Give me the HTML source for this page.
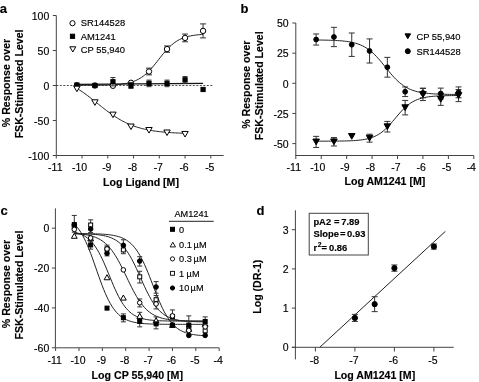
<!DOCTYPE html>
<html><head><meta charset="utf-8"><style>
html,body{margin:0;padding:0;background:#fff;}
svg{display:block;will-change:transform;}
text{font-family:"Liberation Sans",sans-serif;fill:#000;stroke:#000;stroke-width:0.15px;}
</style></head><body>
<svg width="479" height="382" viewBox="0 0 479 382">
<rect width="479" height="382" fill="#fff"/>
<text x="-0.30" y="12.60" font-size="13" font-weight="bold" text-anchor="start">a</text>
<line x1="56.30" y1="15.60" x2="56.30" y2="155.50" stroke="#444" stroke-width="1"/>
<line x1="56.30" y1="155.50" x2="223.60" y2="155.50" stroke="#444" stroke-width="1"/>
<line x1="52.80" y1="15.50" x2="56.30" y2="15.50" stroke="#444" stroke-width="1"/>
<text x="49.30" y="20.00" font-size="10.5" font-weight="normal" text-anchor="end">100</text>
<line x1="52.80" y1="50.50" x2="56.30" y2="50.50" stroke="#444" stroke-width="1"/>
<text x="49.30" y="55.00" font-size="10.5" font-weight="normal" text-anchor="end">50</text>
<line x1="52.80" y1="85.50" x2="56.30" y2="85.50" stroke="#444" stroke-width="1"/>
<text x="49.30" y="90.00" font-size="10.5" font-weight="normal" text-anchor="end">0</text>
<line x1="52.80" y1="120.50" x2="56.30" y2="120.50" stroke="#444" stroke-width="1"/>
<text x="49.30" y="125.00" font-size="10.5" font-weight="normal" text-anchor="end">-50</text>
<line x1="52.80" y1="155.50" x2="56.30" y2="155.50" stroke="#444" stroke-width="1"/>
<text x="49.30" y="160.00" font-size="10.5" font-weight="normal" text-anchor="end">-100</text>
<line x1="56.30" y1="155.50" x2="56.30" y2="158.50" stroke="#444" stroke-width="1"/>
<text x="55.30" y="170.60" font-size="10.5" font-weight="normal" text-anchor="middle">-11</text>
<line x1="82.05" y1="155.50" x2="82.05" y2="158.50" stroke="#444" stroke-width="1"/>
<text x="79.55" y="170.60" font-size="10.5" font-weight="normal" text-anchor="middle">-10</text>
<line x1="107.80" y1="155.50" x2="107.80" y2="158.50" stroke="#444" stroke-width="1"/>
<text x="106.80" y="170.60" font-size="10.5" font-weight="normal" text-anchor="middle">-9</text>
<line x1="133.55" y1="155.50" x2="133.55" y2="158.50" stroke="#444" stroke-width="1"/>
<text x="132.55" y="170.60" font-size="10.5" font-weight="normal" text-anchor="middle">-8</text>
<line x1="159.30" y1="155.50" x2="159.30" y2="158.50" stroke="#444" stroke-width="1"/>
<text x="158.30" y="170.60" font-size="10.5" font-weight="normal" text-anchor="middle">-7</text>
<line x1="185.05" y1="155.50" x2="185.05" y2="158.50" stroke="#444" stroke-width="1"/>
<text x="184.05" y="170.60" font-size="10.5" font-weight="normal" text-anchor="middle">-6</text>
<line x1="210.80" y1="155.50" x2="210.80" y2="158.50" stroke="#444" stroke-width="1"/>
<text x="209.80" y="170.60" font-size="10.5" font-weight="normal" text-anchor="middle">-5</text>
<text x="141.00" y="185.50" font-size="10.6" font-weight="bold" text-anchor="middle">Log Ligand [M]</text>
<g transform="translate(10.20,83.00) rotate(-90)"><text x="0" y="0" font-size="10.6" font-weight="bold" text-anchor="middle">% Response over</text></g>
<g transform="translate(22.60,83.90) rotate(-90)"><text x="0" y="0" font-size="10.6" font-weight="bold" text-anchor="middle">FSK-Stimulated Level</text></g>
<line x1="56.30" y1="85.50" x2="213.70" y2="85.50" stroke="#222" stroke-width="0.8" stroke-dasharray="2,1.5"/>
<path d="M76.90,85.34 L78.48,85.33 L80.05,85.33 L81.63,85.33 L83.21,85.32 L84.79,85.32 L86.36,85.31 L87.94,85.30 L89.52,85.30 L91.09,85.29 L92.67,85.28 L94.25,85.26 L95.83,85.25 L97.40,85.23 L98.98,85.21 L100.56,85.19 L102.14,85.16 L103.71,85.13 L105.29,85.09 L106.87,85.05 L108.44,85.00 L110.02,84.94 L111.60,84.87 L113.18,84.79 L114.75,84.70 L116.33,84.59 L117.91,84.46 L119.48,84.31 L121.06,84.14 L122.64,83.94 L124.22,83.71 L125.79,83.44 L127.37,83.14 L128.95,82.78 L130.52,82.37 L132.10,81.90 L133.68,81.36 L135.26,80.74 L136.83,80.04 L138.41,79.24 L139.99,78.35 L141.56,77.35 L143.14,76.23 L144.72,75.00 L146.30,73.64 L147.87,72.16 L149.45,70.57 L151.03,68.87 L152.61,67.06 L154.18,65.18 L155.76,63.23 L157.34,61.23 L158.91,59.22 L160.49,57.21 L162.07,55.23 L163.65,53.30 L165.22,51.44 L166.80,49.67 L168.38,48.00 L169.95,46.45 L171.53,45.02 L173.11,43.71 L174.69,42.51 L176.26,41.44 L177.84,40.48 L179.42,39.62 L180.99,38.86 L182.57,38.19 L184.15,37.60 L185.73,37.09 L187.30,36.64 L188.88,36.25 L190.46,35.91 L192.03,35.62 L193.61,35.36 L195.19,35.14 L196.77,34.95 L198.34,34.79 L199.92,34.65 L201.50,34.53 L203.07,34.43" fill="none" stroke="#222" stroke-width="1"/>
<path d="M76.90,88.34 L78.25,89.18 L79.60,90.04 L80.96,90.93 L82.31,91.85 L83.66,92.79 L85.01,93.76 L86.36,94.75 L87.72,95.76 L89.07,96.78 L90.42,97.82 L91.77,98.88 L93.12,99.95 L94.47,101.02 L95.83,102.10 L97.18,103.18 L98.53,104.27 L99.88,105.35 L101.23,106.43 L102.59,107.50 L103.94,108.56 L105.29,109.60 L106.64,110.63 L107.99,111.65 L109.35,112.64 L110.70,113.62 L112.05,114.57 L113.40,115.49 L114.75,116.39 L116.10,117.27 L117.46,118.11 L118.81,118.93 L120.16,119.72 L121.51,120.47 L122.86,121.20 L124.22,121.90 L125.57,122.57 L126.92,123.21 L128.27,123.82 L129.62,124.41 L130.98,124.96 L132.33,125.49 L133.68,125.99 L135.03,126.46 L136.38,126.92 L137.73,127.34 L139.09,127.74 L140.44,128.13 L141.79,128.49 L143.14,128.83 L144.49,129.14 L145.85,129.45 L147.20,129.73 L148.55,130.00 L149.90,130.25 L151.25,130.48 L152.61,130.70 L153.96,130.91 L155.31,131.10 L156.66,131.29 L158.01,131.46 L159.36,131.62 L160.72,131.77 L162.07,131.91 L163.42,132.04 L164.77,132.16 L166.12,132.28 L167.48,132.38 L168.83,132.48 L170.18,132.58 L171.53,132.66 L172.88,132.75 L174.24,132.82 L175.59,132.89 L176.94,132.96 L178.29,133.02 L179.64,133.08 L180.99,133.13 L182.35,133.18 L183.70,133.23 L185.05,133.27" fill="none" stroke="#222" stroke-width="1"/>
<line x1="76.90" y1="84.45" x2="203.07" y2="83.33" stroke="#111" stroke-width="1.2"/>
<circle cx="76.90" cy="85.50" r="2.7" fill="#fff" stroke="#000" stroke-width="1"/>
<circle cx="94.92" cy="85.50" r="2.7" fill="#fff" stroke="#000" stroke-width="1"/>
<circle cx="112.95" cy="85.78" r="2.7" fill="#fff" stroke="#000" stroke-width="1"/>
<circle cx="130.98" cy="82.77" r="2.7" fill="#fff" stroke="#000" stroke-width="1"/>
<line x1="149.00" y1="68.14" x2="149.00" y2="74.86" stroke="#333" stroke-width="1"/>
<line x1="146.00" y1="68.14" x2="152.00" y2="68.14" stroke="#333" stroke-width="1"/>
<line x1="146.00" y1="74.86" x2="152.00" y2="74.86" stroke="#333" stroke-width="1"/>
<circle cx="149.00" cy="71.50" r="2.7" fill="#fff" stroke="#000" stroke-width="1"/>
<line x1="167.02" y1="45.95" x2="167.02" y2="52.25" stroke="#333" stroke-width="1"/>
<line x1="164.02" y1="45.95" x2="170.02" y2="45.95" stroke="#333" stroke-width="1"/>
<line x1="164.02" y1="52.25" x2="170.02" y2="52.25" stroke="#333" stroke-width="1"/>
<circle cx="167.02" cy="49.10" r="2.7" fill="#fff" stroke="#000" stroke-width="1"/>
<line x1="185.05" y1="34.05" x2="185.05" y2="41.75" stroke="#333" stroke-width="1"/>
<line x1="182.05" y1="34.05" x2="188.05" y2="34.05" stroke="#333" stroke-width="1"/>
<line x1="182.05" y1="41.75" x2="188.05" y2="41.75" stroke="#333" stroke-width="1"/>
<circle cx="185.05" cy="37.90" r="2.7" fill="#fff" stroke="#000" stroke-width="1"/>
<line x1="203.07" y1="23.90" x2="203.07" y2="37.90" stroke="#333" stroke-width="1"/>
<line x1="200.07" y1="23.90" x2="206.07" y2="23.90" stroke="#333" stroke-width="1"/>
<line x1="200.07" y1="37.90" x2="206.07" y2="37.90" stroke="#333" stroke-width="1"/>
<circle cx="203.07" cy="30.90" r="2.7" fill="#fff" stroke="#000" stroke-width="1"/>
<rect x="74.80" y="82.91" width="4.2" height="4.2" fill="#000" stroke="#000" stroke-width="1"/>
<rect x="92.83" y="83.40" width="4.2" height="4.2" fill="#000" stroke="#000" stroke-width="1"/>
<line x1="112.95" y1="77.52" x2="112.95" y2="85.92" stroke="#333" stroke-width="1"/>
<line x1="110.45" y1="77.52" x2="115.45" y2="77.52" stroke="#333" stroke-width="1"/>
<line x1="110.45" y1="85.92" x2="115.45" y2="85.92" stroke="#333" stroke-width="1"/>
<rect x="110.85" y="79.62" width="4.2" height="4.2" fill="#000" stroke="#000" stroke-width="1"/>
<line x1="130.98" y1="82.56" x2="130.98" y2="88.44" stroke="#333" stroke-width="1"/>
<line x1="128.48" y1="82.56" x2="133.48" y2="82.56" stroke="#333" stroke-width="1"/>
<line x1="128.48" y1="88.44" x2="133.48" y2="88.44" stroke="#333" stroke-width="1"/>
<rect x="128.88" y="83.40" width="4.2" height="4.2" fill="#000" stroke="#000" stroke-width="1"/>
<line x1="149.00" y1="80.11" x2="149.00" y2="86.69" stroke="#333" stroke-width="1"/>
<line x1="146.50" y1="80.11" x2="151.50" y2="80.11" stroke="#333" stroke-width="1"/>
<line x1="146.50" y1="86.69" x2="151.50" y2="86.69" stroke="#333" stroke-width="1"/>
<rect x="146.90" y="81.30" width="4.2" height="4.2" fill="#000" stroke="#000" stroke-width="1"/>
<line x1="167.02" y1="80.11" x2="167.02" y2="86.69" stroke="#333" stroke-width="1"/>
<line x1="164.52" y1="80.11" x2="169.52" y2="80.11" stroke="#333" stroke-width="1"/>
<line x1="164.52" y1="86.69" x2="169.52" y2="86.69" stroke="#333" stroke-width="1"/>
<rect x="164.92" y="81.30" width="4.2" height="4.2" fill="#000" stroke="#000" stroke-width="1"/>
<line x1="185.05" y1="76.54" x2="185.05" y2="83.12" stroke="#333" stroke-width="1"/>
<line x1="182.55" y1="76.54" x2="187.55" y2="76.54" stroke="#333" stroke-width="1"/>
<line x1="182.55" y1="83.12" x2="187.55" y2="83.12" stroke="#333" stroke-width="1"/>
<rect x="182.95" y="77.73" width="4.2" height="4.2" fill="#000" stroke="#000" stroke-width="1"/>
<rect x="200.97" y="87.39" width="4.2" height="4.2" fill="#000" stroke="#000" stroke-width="1"/>
<path d="M73.70,86.15 L80.10,86.15 L76.90,91.71Z" fill="#fff" stroke="#000" stroke-width="1"/>
<path d="M91.72,99.80 L98.12,99.80 L94.92,105.36Z" fill="#fff" stroke="#000" stroke-width="1"/>
<path d="M109.75,112.12 L116.15,112.12 L112.95,117.68Z" fill="#fff" stroke="#000" stroke-width="1"/>
<path d="M127.78,124.02 L134.18,124.02 L130.98,129.58Z" fill="#fff" stroke="#000" stroke-width="1"/>
<path d="M145.80,127.52 L152.20,127.52 L149.00,133.08Z" fill="#fff" stroke="#000" stroke-width="1"/>
<path d="M163.82,129.97 L170.22,129.97 L167.02,135.53Z" fill="#fff" stroke="#000" stroke-width="1"/>
<path d="M181.85,131.44 L188.25,131.44 L185.05,137.00Z" fill="#fff" stroke="#000" stroke-width="1"/>
<circle cx="72.50" cy="23.20" r="2.6" fill="#fff" stroke="#000" stroke-width="1"/>
<text x="80.80" y="26.30" font-size="9.4" font-weight="normal" text-anchor="start">SR144528</text>
<rect x="70.40" y="34.20" width="4.2" height="4.2" fill="#000" stroke="#000" stroke-width="1"/>
<text x="80.80" y="39.60" font-size="9.4" font-weight="normal" text-anchor="start">AM1241</text>
<path d="M69.80,46.79 L75.80,46.79 L72.80,52.01Z" fill="#fff" stroke="#000" stroke-width="1"/>
<text x="80.80" y="52.80" font-size="9.4" font-weight="normal" text-anchor="start">CP 55,940</text>
<text x="240.50" y="12.60" font-size="13" font-weight="bold" text-anchor="start">b</text>
<line x1="295.80" y1="23.00" x2="295.80" y2="156.00" stroke="#444" stroke-width="1"/>
<line x1="295.80" y1="155.50" x2="473.80" y2="155.50" stroke="#444" stroke-width="1"/>
<line x1="292.30" y1="23.00" x2="295.80" y2="23.00" stroke="#444" stroke-width="1"/>
<text x="288.70" y="27.20" font-size="10.5" font-weight="normal" text-anchor="end">50</text>
<line x1="292.30" y1="53.15" x2="295.80" y2="53.15" stroke="#444" stroke-width="1"/>
<text x="288.70" y="57.35" font-size="10.5" font-weight="normal" text-anchor="end">25</text>
<line x1="292.30" y1="83.30" x2="295.80" y2="83.30" stroke="#444" stroke-width="1"/>
<text x="288.70" y="87.50" font-size="10.5" font-weight="normal" text-anchor="end">0</text>
<line x1="292.30" y1="113.45" x2="295.80" y2="113.45" stroke="#444" stroke-width="1"/>
<text x="288.70" y="117.65" font-size="10.5" font-weight="normal" text-anchor="end">-25</text>
<line x1="292.30" y1="143.60" x2="295.80" y2="143.60" stroke="#444" stroke-width="1"/>
<text x="288.70" y="147.80" font-size="10.5" font-weight="normal" text-anchor="end">-50</text>
<line x1="295.80" y1="155.50" x2="295.80" y2="159.00" stroke="#444" stroke-width="1"/>
<text x="293.80" y="170.80" font-size="10.5" font-weight="normal" text-anchor="middle">-11</text>
<line x1="321.23" y1="155.50" x2="321.23" y2="159.00" stroke="#444" stroke-width="1"/>
<text x="317.73" y="170.80" font-size="10.5" font-weight="normal" text-anchor="middle">-10</text>
<line x1="346.66" y1="155.50" x2="346.66" y2="159.00" stroke="#444" stroke-width="1"/>
<text x="344.96" y="170.80" font-size="10.5" font-weight="normal" text-anchor="middle">-9</text>
<line x1="372.09" y1="155.50" x2="372.09" y2="159.00" stroke="#444" stroke-width="1"/>
<text x="370.39" y="170.80" font-size="10.5" font-weight="normal" text-anchor="middle">-8</text>
<line x1="397.52" y1="155.50" x2="397.52" y2="159.00" stroke="#444" stroke-width="1"/>
<text x="395.82" y="170.80" font-size="10.5" font-weight="normal" text-anchor="middle">-7</text>
<line x1="422.95" y1="155.50" x2="422.95" y2="159.00" stroke="#444" stroke-width="1"/>
<text x="421.25" y="170.80" font-size="10.5" font-weight="normal" text-anchor="middle">-6</text>
<line x1="448.38" y1="155.50" x2="448.38" y2="159.00" stroke="#444" stroke-width="1"/>
<text x="446.68" y="170.80" font-size="10.5" font-weight="normal" text-anchor="middle">-5</text>
<line x1="473.81" y1="155.50" x2="473.81" y2="159.00" stroke="#444" stroke-width="1"/>
<text x="471.31" y="170.80" font-size="10.5" font-weight="normal" text-anchor="middle">-4</text>
<text x="384.90" y="185.20" font-size="10.6" font-weight="bold" text-anchor="middle">Log AM1241 [M]</text>
<g transform="translate(250.40,84.70) rotate(-90)"><text x="0" y="0" font-size="10.6" font-weight="bold" text-anchor="middle">% Response over</text></g>
<g transform="translate(262.70,85.75) rotate(-90)"><text x="0" y="0" font-size="10.6" font-weight="bold" text-anchor="middle">FSK-Stimulated Level</text></g>
<path d="M316.14,40.00 L317.92,40.02 L319.70,40.04 L321.48,40.06 L323.26,40.09 L325.04,40.12 L326.82,40.16 L328.60,40.21 L330.38,40.26 L332.16,40.32 L333.94,40.39 L335.73,40.48 L337.51,40.58 L339.29,40.69 L341.07,40.83 L342.85,40.99 L344.63,41.18 L346.41,41.40 L348.19,41.65 L349.97,41.95 L351.75,42.29 L353.53,42.69 L355.31,43.15 L357.09,43.69 L358.87,44.30 L360.65,45.00 L362.43,45.80 L364.21,46.72 L365.99,47.75 L367.77,48.90 L369.55,50.19 L371.33,51.62 L373.11,53.18 L374.89,54.88 L376.67,56.72 L378.45,58.66 L380.23,60.71 L382.01,62.85 L383.79,65.03 L385.57,67.25 L387.35,69.47 L389.13,71.65 L390.91,73.78 L392.69,75.83 L394.47,77.77 L396.25,79.60 L398.03,81.30 L399.81,82.86 L401.59,84.28 L403.37,85.57 L405.15,86.72 L406.93,87.75 L408.71,88.66 L410.49,89.46 L412.27,90.16 L414.05,90.77 L415.83,91.30 L417.61,91.76 L419.39,92.16 L421.17,92.50 L422.95,92.79 L424.73,93.05 L426.51,93.26 L428.29,93.45 L430.07,93.61 L431.85,93.74 L433.63,93.86 L435.41,93.96 L437.19,94.04 L438.97,94.12 L440.75,94.18 L442.53,94.23 L444.31,94.27 L446.09,94.31 L447.87,94.34 L449.65,94.37 L451.43,94.40 L453.21,94.42 L454.99,94.43 L456.77,94.45 L458.55,94.46" fill="none" stroke="#222" stroke-width="1"/>
<path d="M316.14,141.18 L317.92,141.17 L319.70,141.17 L321.48,141.17 L323.26,141.16 L325.04,141.16 L326.82,141.15 L328.60,141.14 L330.38,141.14 L332.16,141.13 L333.94,141.11 L335.73,141.10 L337.51,141.08 L339.29,141.06 L341.07,141.03 L342.85,141.00 L344.63,140.96 L346.41,140.91 L348.19,140.86 L349.97,140.79 L351.75,140.71 L353.53,140.61 L355.31,140.50 L357.09,140.36 L358.87,140.19 L360.65,139.99 L362.43,139.75 L364.21,139.47 L365.99,139.14 L367.77,138.74 L369.55,138.27 L371.33,137.72 L373.11,137.07 L374.89,136.32 L376.67,135.45 L378.45,134.45 L380.23,133.31 L382.01,132.02 L383.79,130.58 L385.57,128.99 L387.35,127.25 L389.13,125.38 L390.91,123.41 L392.69,121.35 L394.47,119.24 L396.25,117.11 L398.03,115.00 L399.81,112.96 L401.59,110.99 L403.37,109.14 L405.15,107.43 L406.93,105.86 L408.71,104.44 L410.49,103.17 L412.27,102.05 L414.05,101.07 L415.83,100.22 L417.61,99.48 L419.39,98.85 L421.17,98.31 L422.95,97.85 L424.73,97.46 L426.51,97.13 L428.29,96.86 L430.07,96.63 L431.85,96.43 L433.63,96.27 L435.41,96.14 L437.19,96.02 L438.97,95.93 L440.75,95.85 L442.53,95.79 L444.31,95.73 L446.09,95.69 L447.87,95.65 L449.65,95.62 L451.43,95.59 L453.21,95.57 L454.99,95.55 L456.77,95.54 L458.55,95.52" fill="none" stroke="#222" stroke-width="1"/>
<line x1="316.14" y1="33.97" x2="316.14" y2="45.07" stroke="#333" stroke-width="1"/>
<line x1="313.14" y1="33.97" x2="319.14" y2="33.97" stroke="#333" stroke-width="1"/>
<line x1="313.14" y1="45.07" x2="319.14" y2="45.07" stroke="#333" stroke-width="1"/>
<line x1="333.94" y1="27.34" x2="333.94" y2="46.64" stroke="#333" stroke-width="1"/>
<line x1="330.94" y1="27.34" x2="336.94" y2="27.34" stroke="#333" stroke-width="1"/>
<line x1="330.94" y1="46.64" x2="336.94" y2="46.64" stroke="#333" stroke-width="1"/>
<line x1="351.75" y1="33.01" x2="351.75" y2="56.41" stroke="#333" stroke-width="1"/>
<line x1="348.75" y1="33.01" x2="354.75" y2="33.01" stroke="#333" stroke-width="1"/>
<line x1="348.75" y1="56.41" x2="354.75" y2="56.41" stroke="#333" stroke-width="1"/>
<line x1="369.55" y1="38.92" x2="369.55" y2="63.04" stroke="#333" stroke-width="1"/>
<line x1="366.55" y1="38.92" x2="372.55" y2="38.92" stroke="#333" stroke-width="1"/>
<line x1="366.55" y1="63.04" x2="372.55" y2="63.04" stroke="#333" stroke-width="1"/>
<line x1="387.35" y1="57.37" x2="387.35" y2="77.15" stroke="#333" stroke-width="1"/>
<line x1="384.35" y1="57.37" x2="390.35" y2="57.37" stroke="#333" stroke-width="1"/>
<line x1="384.35" y1="77.15" x2="390.35" y2="77.15" stroke="#333" stroke-width="1"/>
<line x1="405.15" y1="86.92" x2="405.15" y2="96.57" stroke="#333" stroke-width="1"/>
<line x1="402.15" y1="86.92" x2="408.15" y2="86.92" stroke="#333" stroke-width="1"/>
<line x1="402.15" y1="96.57" x2="408.15" y2="96.57" stroke="#333" stroke-width="1"/>
<line x1="422.95" y1="88.12" x2="422.95" y2="97.77" stroke="#333" stroke-width="1"/>
<line x1="419.95" y1="88.12" x2="425.95" y2="88.12" stroke="#333" stroke-width="1"/>
<line x1="419.95" y1="97.77" x2="425.95" y2="97.77" stroke="#333" stroke-width="1"/>
<line x1="440.75" y1="88.12" x2="440.75" y2="98.98" stroke="#333" stroke-width="1"/>
<line x1="437.75" y1="88.12" x2="443.75" y2="88.12" stroke="#333" stroke-width="1"/>
<line x1="437.75" y1="98.98" x2="443.75" y2="98.98" stroke="#333" stroke-width="1"/>
<line x1="458.55" y1="86.92" x2="458.55" y2="97.77" stroke="#333" stroke-width="1"/>
<line x1="455.55" y1="86.92" x2="461.55" y2="86.92" stroke="#333" stroke-width="1"/>
<line x1="455.55" y1="97.77" x2="461.55" y2="97.77" stroke="#333" stroke-width="1"/>
<line x1="316.14" y1="136.36" x2="316.14" y2="147.46" stroke="#333" stroke-width="1"/>
<line x1="313.14" y1="136.36" x2="319.14" y2="136.36" stroke="#333" stroke-width="1"/>
<line x1="313.14" y1="147.46" x2="319.14" y2="147.46" stroke="#333" stroke-width="1"/>
<line x1="333.94" y1="137.57" x2="333.94" y2="146.01" stroke="#333" stroke-width="1"/>
<line x1="330.94" y1="137.57" x2="336.94" y2="137.57" stroke="#333" stroke-width="1"/>
<line x1="330.94" y1="146.01" x2="336.94" y2="146.01" stroke="#333" stroke-width="1"/>
<line x1="369.55" y1="134.19" x2="369.55" y2="142.15" stroke="#333" stroke-width="1"/>
<line x1="366.55" y1="134.19" x2="372.55" y2="134.19" stroke="#333" stroke-width="1"/>
<line x1="366.55" y1="142.15" x2="372.55" y2="142.15" stroke="#333" stroke-width="1"/>
<line x1="387.35" y1="121.41" x2="387.35" y2="132.02" stroke="#333" stroke-width="1"/>
<line x1="384.35" y1="121.41" x2="390.35" y2="121.41" stroke="#333" stroke-width="1"/>
<line x1="384.35" y1="132.02" x2="390.35" y2="132.02" stroke="#333" stroke-width="1"/>
<line x1="405.15" y1="100.43" x2="405.15" y2="114.90" stroke="#333" stroke-width="1"/>
<line x1="402.15" y1="100.43" x2="408.15" y2="100.43" stroke="#333" stroke-width="1"/>
<line x1="402.15" y1="114.90" x2="408.15" y2="114.90" stroke="#333" stroke-width="1"/>
<line x1="422.95" y1="88.49" x2="422.95" y2="100.55" stroke="#333" stroke-width="1"/>
<line x1="419.95" y1="88.49" x2="425.95" y2="88.49" stroke="#333" stroke-width="1"/>
<line x1="419.95" y1="100.55" x2="425.95" y2="100.55" stroke="#333" stroke-width="1"/>
<line x1="440.75" y1="93.31" x2="440.75" y2="105.37" stroke="#333" stroke-width="1"/>
<line x1="437.75" y1="93.31" x2="443.75" y2="93.31" stroke="#333" stroke-width="1"/>
<line x1="437.75" y1="105.37" x2="443.75" y2="105.37" stroke="#333" stroke-width="1"/>
<line x1="458.55" y1="89.57" x2="458.55" y2="101.63" stroke="#333" stroke-width="1"/>
<line x1="455.55" y1="89.57" x2="461.55" y2="89.57" stroke="#333" stroke-width="1"/>
<line x1="455.55" y1="101.63" x2="461.55" y2="101.63" stroke="#333" stroke-width="1"/>
<circle cx="316.14" cy="39.52" r="2.4" fill="#000" stroke="#000" stroke-width="1"/>
<circle cx="333.94" cy="36.99" r="2.4" fill="#000" stroke="#000" stroke-width="1"/>
<circle cx="351.75" cy="44.71" r="2.4" fill="#000" stroke="#000" stroke-width="1"/>
<circle cx="369.55" cy="50.98" r="2.4" fill="#000" stroke="#000" stroke-width="1"/>
<circle cx="387.35" cy="67.26" r="2.4" fill="#000" stroke="#000" stroke-width="1"/>
<circle cx="405.15" cy="91.74" r="2.4" fill="#000" stroke="#000" stroke-width="1"/>
<circle cx="422.95" cy="92.95" r="2.4" fill="#000" stroke="#000" stroke-width="1"/>
<circle cx="440.75" cy="93.55" r="2.4" fill="#000" stroke="#000" stroke-width="1"/>
<circle cx="458.55" cy="92.34" r="2.4" fill="#000" stroke="#000" stroke-width="1"/>
<path d="M312.84,139.04 L319.44,139.04 L316.14,144.78Z" fill="#000" stroke="#000" stroke-width="1"/>
<path d="M330.64,138.92 L337.25,138.92 L333.94,144.66Z" fill="#000" stroke="#000" stroke-width="1"/>
<path d="M348.45,133.49 L355.05,133.49 L351.75,139.24Z" fill="#000" stroke="#000" stroke-width="1"/>
<path d="M366.25,135.30 L372.85,135.30 L369.55,141.04Z" fill="#000" stroke="#000" stroke-width="1"/>
<path d="M384.05,123.84 L390.65,123.84 L387.35,129.59Z" fill="#000" stroke="#000" stroke-width="1"/>
<path d="M401.85,104.79 L408.45,104.79 L405.15,110.53Z" fill="#000" stroke="#000" stroke-width="1"/>
<path d="M419.65,91.64 L426.25,91.64 L422.95,97.39Z" fill="#000" stroke="#000" stroke-width="1"/>
<path d="M437.45,96.47 L444.05,96.47 L440.75,102.21Z" fill="#000" stroke="#000" stroke-width="1"/>
<path d="M455.25,92.73 L461.85,92.73 L458.55,98.47Z" fill="#000" stroke="#000" stroke-width="1"/>
<path d="M405.00,33.86 L410.60,33.86 L407.80,38.74Z" fill="#000" stroke="#000" stroke-width="1"/>
<text x="416.40" y="39.80" font-size="9.4" font-weight="normal" text-anchor="start">CP 55,940</text>
<circle cx="407.80" cy="51.20" r="2.5" fill="#000" stroke="#000" stroke-width="1"/>
<text x="416.40" y="54.60" font-size="9.4" font-weight="normal" text-anchor="start">SR144528</text>
<text x="0.50" y="215.00" font-size="13" font-weight="bold" text-anchor="start">c</text>
<line x1="55.40" y1="208.30" x2="55.40" y2="347.80" stroke="#444" stroke-width="1"/>
<line x1="55.40" y1="347.80" x2="219.20" y2="347.80" stroke="#444" stroke-width="1"/>
<line x1="51.90" y1="228.20" x2="55.40" y2="228.20" stroke="#444" stroke-width="1"/>
<text x="49.30" y="232.00" font-size="10.5" font-weight="normal" text-anchor="end">0</text>
<line x1="51.90" y1="268.06" x2="55.40" y2="268.06" stroke="#444" stroke-width="1"/>
<text x="49.30" y="271.86" font-size="10.5" font-weight="normal" text-anchor="end">-20</text>
<line x1="51.90" y1="307.92" x2="55.40" y2="307.92" stroke="#444" stroke-width="1"/>
<text x="49.30" y="311.72" font-size="10.5" font-weight="normal" text-anchor="end">-40</text>
<line x1="51.90" y1="347.78" x2="55.40" y2="347.78" stroke="#444" stroke-width="1"/>
<text x="49.30" y="351.58" font-size="10.5" font-weight="normal" text-anchor="end">-60</text>
<line x1="55.60" y1="347.80" x2="55.60" y2="351.00" stroke="#444" stroke-width="1"/>
<text x="54.60" y="364.30" font-size="10.5" font-weight="normal" text-anchor="middle">-11</text>
<line x1="78.97" y1="347.80" x2="78.97" y2="351.00" stroke="#444" stroke-width="1"/>
<text x="77.97" y="364.30" font-size="10.5" font-weight="normal" text-anchor="middle">-10</text>
<line x1="102.34" y1="347.80" x2="102.34" y2="351.00" stroke="#444" stroke-width="1"/>
<text x="101.34" y="364.30" font-size="10.5" font-weight="normal" text-anchor="middle">-9</text>
<line x1="125.71" y1="347.80" x2="125.71" y2="351.00" stroke="#444" stroke-width="1"/>
<text x="124.71" y="364.30" font-size="10.5" font-weight="normal" text-anchor="middle">-8</text>
<line x1="149.08" y1="347.80" x2="149.08" y2="351.00" stroke="#444" stroke-width="1"/>
<text x="148.08" y="364.30" font-size="10.5" font-weight="normal" text-anchor="middle">-7</text>
<line x1="172.45" y1="347.80" x2="172.45" y2="351.00" stroke="#444" stroke-width="1"/>
<text x="171.45" y="364.30" font-size="10.5" font-weight="normal" text-anchor="middle">-6</text>
<line x1="195.82" y1="347.80" x2="195.82" y2="351.00" stroke="#444" stroke-width="1"/>
<text x="194.82" y="364.30" font-size="10.5" font-weight="normal" text-anchor="middle">-5</text>
<line x1="219.19" y1="347.80" x2="219.19" y2="351.00" stroke="#444" stroke-width="1"/>
<text x="218.19" y="364.30" font-size="10.5" font-weight="normal" text-anchor="middle">-4</text>
<text x="137.30" y="379.20" font-size="10.65" font-weight="bold" text-anchor="middle">Log CP 55,940 [M]</text>
<g transform="translate(10.00,284.00) rotate(-90)"><text x="0" y="0" font-size="10.6" font-weight="bold" text-anchor="middle">% Response over</text></g>
<g transform="translate(22.60,285.00) rotate(-90)"><text x="0" y="0" font-size="10.6" font-weight="bold" text-anchor="middle">FSK-Stimulated Level</text></g>
<path d="M74.30,224.05 L75.93,225.74 L77.57,227.67 L79.20,229.87 L80.84,232.34 L82.48,235.11 L84.11,238.19 L85.75,241.57 L87.38,245.25 L89.02,249.21 L90.66,253.43 L92.29,257.85 L93.93,262.42 L95.56,267.09 L97.20,271.79 L98.83,276.45 L100.47,281.01 L102.11,285.40 L103.74,289.58 L105.38,293.50 L107.01,297.14 L108.65,300.48 L110.29,303.52 L111.92,306.24 L113.56,308.68 L115.19,310.83 L116.83,312.73 L118.47,314.38 L120.10,315.82 L121.74,317.07 L123.37,318.15 L125.01,319.07 L126.64,319.87 L128.28,320.55 L129.92,321.13 L131.55,321.62 L133.19,322.04 L134.82,322.40 L136.46,322.70 L138.10,322.96 L139.73,323.17 L141.37,323.36 L143.00,323.51 L144.64,323.65 L146.28,323.76 L147.91,323.85 L149.55,323.93 L151.18,324.00 L152.82,324.06 L154.46,324.10 L156.09,324.14 L157.73,324.18 L159.36,324.21 L161.00,324.23 L162.63,324.25 L164.27,324.27 L165.91,324.28 L167.54,324.30 L169.18,324.31 L170.81,324.31 L172.45,324.32 L174.09,324.33 L175.72,324.33 L177.36,324.34 L178.99,324.34 L180.63,324.35 L182.27,324.35 L183.90,324.35 L185.54,324.35 L187.17,324.35 L188.81,324.35 L190.44,324.36 L192.08,324.36 L193.72,324.36 L195.35,324.36 L196.99,324.36 L198.62,324.36 L200.26,324.36 L201.90,324.36 L203.53,324.36 L205.17,324.36" fill="none" stroke="#222" stroke-width="1"/>
<path d="M74.30,232.15 L75.93,232.54 L77.57,232.99 L79.20,233.53 L80.84,234.17 L82.48,234.91 L84.11,235.78 L85.75,236.79 L87.38,237.97 L89.02,239.33 L90.66,240.89 L92.29,242.68 L93.93,244.70 L95.56,246.99 L97.20,249.54 L98.83,252.36 L100.47,255.44 L102.11,258.77 L103.74,262.32 L105.38,266.06 L107.01,269.94 L108.65,273.90 L110.29,277.89 L111.92,281.85 L113.56,285.71 L115.19,289.43 L116.83,292.95 L118.47,296.24 L120.10,299.29 L121.74,302.07 L123.37,304.58 L125.01,306.83 L126.64,308.82 L128.28,310.57 L129.92,312.11 L131.55,313.44 L133.19,314.59 L134.82,315.58 L136.46,316.43 L138.10,317.16 L139.73,317.78 L141.37,318.30 L143.00,318.75 L144.64,319.13 L146.28,319.45 L147.91,319.72 L149.55,319.94 L151.18,320.14 L152.82,320.30 L154.46,320.44 L156.09,320.55 L157.73,320.65 L159.36,320.73 L161.00,320.80 L162.63,320.85 L164.27,320.90 L165.91,320.94 L167.54,320.98 L169.18,321.00 L170.81,321.03 L172.45,321.05 L174.09,321.07 L175.72,321.08 L177.36,321.09 L178.99,321.10 L180.63,321.11 L182.27,321.12 L183.90,321.12 L185.54,321.13 L187.17,321.13 L188.81,321.14 L190.44,321.14 L192.08,321.14 L193.72,321.14 L195.35,321.14 L196.99,321.15 L198.62,321.15 L200.26,321.15 L201.90,321.15 L203.53,321.15 L205.17,321.15" fill="none" stroke="#222" stroke-width="1"/>
<path d="M74.30,233.58 L75.93,233.68 L77.57,233.80 L79.20,233.94 L80.84,234.10 L82.48,234.28 L84.11,234.50 L85.75,234.75 L87.38,235.05 L89.02,235.39 L90.66,235.78 L92.29,236.24 L93.93,236.77 L95.56,237.37 L97.20,238.07 L98.83,238.87 L100.47,239.78 L102.11,240.83 L103.74,242.01 L105.38,243.35 L107.01,244.86 L108.65,246.55 L110.29,248.43 L111.92,250.51 L113.56,252.80 L115.19,255.29 L116.83,257.97 L118.47,260.84 L120.10,263.88 L121.74,267.07 L123.37,270.36 L125.01,273.74 L126.64,277.16 L128.28,280.57 L129.92,283.94 L131.55,287.24 L133.19,290.41 L134.82,293.44 L136.46,296.30 L138.10,298.98 L139.73,301.46 L141.37,303.73 L143.00,305.80 L144.64,307.67 L146.28,309.35 L147.91,310.85 L149.55,312.18 L151.18,313.35 L152.82,314.39 L154.46,315.30 L156.09,316.09 L157.73,316.78 L159.36,317.38 L161.00,317.91 L162.63,318.36 L164.27,318.75 L165.91,319.09 L167.54,319.38 L169.18,319.63 L170.81,319.84 L172.45,320.03 L174.09,320.19 L175.72,320.33 L177.36,320.45 L178.99,320.55 L180.63,320.63 L182.27,320.71 L183.90,320.77 L185.54,320.83 L187.17,320.87 L188.81,320.91 L190.44,320.95 L192.08,320.98 L193.72,321.00 L195.35,321.02 L196.99,321.04 L198.62,321.06 L200.26,321.07 L201.90,321.08 L203.53,321.09 L205.17,321.10" fill="none" stroke="#222" stroke-width="1"/>
<path d="M74.30,233.72 L75.93,233.74 L77.57,233.76 L79.20,233.79 L80.84,233.82 L82.48,233.86 L84.11,233.90 L85.75,233.95 L87.38,234.01 L89.02,234.08 L90.66,234.16 L92.29,234.26 L93.93,234.37 L95.56,234.51 L97.20,234.67 L98.83,234.86 L100.47,235.08 L102.11,235.33 L103.74,235.64 L105.38,235.99 L107.01,236.41 L108.65,236.90 L110.29,237.47 L111.92,238.13 L113.56,238.90 L115.19,239.79 L116.83,240.81 L118.47,242.00 L120.10,243.35 L121.74,244.89 L123.37,246.63 L125.01,248.59 L126.64,250.77 L128.28,253.20 L129.92,255.85 L131.55,258.74 L133.19,261.84 L134.82,265.13 L136.46,268.59 L138.10,272.16 L139.73,275.82 L141.37,279.50 L143.00,283.16 L144.64,286.74 L146.28,290.21 L147.91,293.52 L149.55,296.63 L151.18,299.54 L152.82,302.22 L154.46,304.66 L156.09,306.87 L157.73,308.84 L159.36,310.60 L161.00,312.16 L162.63,313.53 L164.27,314.72 L165.91,315.76 L167.54,316.66 L169.18,317.44 L170.81,318.11 L172.45,318.69 L174.09,319.18 L175.72,319.60 L177.36,319.97 L178.99,320.27 L180.63,320.54 L182.27,320.76 L183.90,320.95 L185.54,321.11 L187.17,321.25 L188.81,321.36 L190.44,321.46 L192.08,321.55 L193.72,321.62 L195.35,321.68 L196.99,321.73 L198.62,321.77 L200.26,321.81 L201.90,321.84 L203.53,321.87 L205.17,321.89" fill="none" stroke="#222" stroke-width="1"/>
<path d="M74.30,233.58 L75.93,233.58 L77.57,233.59 L79.20,233.60 L80.84,233.61 L82.48,233.62 L84.11,233.64 L85.75,233.65 L87.38,233.68 L89.02,233.70 L90.66,233.73 L92.29,233.76 L93.93,233.80 L95.56,233.85 L97.20,233.90 L98.83,233.97 L100.47,234.05 L102.11,234.14 L103.74,234.24 L105.38,234.37 L107.01,234.52 L108.65,234.69 L110.29,234.90 L111.92,235.14 L113.56,235.42 L115.19,235.75 L116.83,236.14 L118.47,236.60 L120.10,237.13 L121.74,237.75 L123.37,238.48 L125.01,239.32 L126.64,240.29 L128.28,241.42 L129.92,242.71 L131.55,244.20 L133.19,245.89 L134.82,247.81 L136.46,249.98 L138.10,252.40 L139.73,255.09 L141.37,258.05 L143.00,261.28 L144.64,264.77 L146.28,268.49 L147.91,272.41 L149.55,276.49 L151.18,280.69 L152.82,284.94 L154.46,289.19 L156.09,293.39 L157.73,297.47 L159.36,301.38 L161.00,305.10 L162.63,308.57 L164.27,311.80 L165.91,314.75 L167.54,317.44 L169.18,319.85 L170.81,322.01 L172.45,323.92 L174.09,325.61 L175.72,327.09 L177.36,328.38 L178.99,329.50 L180.63,330.47 L182.27,331.31 L183.90,332.03 L185.54,332.65 L187.17,333.18 L188.81,333.63 L190.44,334.02 L192.08,334.35 L193.72,334.63 L195.35,334.87 L196.99,335.08 L198.62,335.25 L200.26,335.40 L201.90,335.52 L203.53,335.63 L205.17,335.72" fill="none" stroke="#222" stroke-width="1"/>
<line x1="74.30" y1="215.44" x2="74.30" y2="232.19" stroke="#333" stroke-width="1"/>
<line x1="71.80" y1="215.44" x2="76.80" y2="215.44" stroke="#333" stroke-width="1"/>
<line x1="71.80" y1="232.19" x2="76.80" y2="232.19" stroke="#333" stroke-width="1"/>
<line x1="90.66" y1="219.83" x2="90.66" y2="232.58" stroke="#333" stroke-width="1"/>
<line x1="88.16" y1="219.83" x2="93.16" y2="219.83" stroke="#333" stroke-width="1"/>
<line x1="88.16" y1="232.58" x2="93.16" y2="232.58" stroke="#333" stroke-width="1"/>
<line x1="107.01" y1="245.14" x2="107.01" y2="255.90" stroke="#333" stroke-width="1"/>
<line x1="104.51" y1="245.14" x2="109.51" y2="245.14" stroke="#333" stroke-width="1"/>
<line x1="104.51" y1="255.90" x2="109.51" y2="255.90" stroke="#333" stroke-width="1"/>
<line x1="123.37" y1="239.76" x2="123.37" y2="253.71" stroke="#333" stroke-width="1"/>
<line x1="120.87" y1="239.76" x2="125.87" y2="239.76" stroke="#333" stroke-width="1"/>
<line x1="120.87" y1="253.71" x2="125.87" y2="253.71" stroke="#333" stroke-width="1"/>
<line x1="139.73" y1="256.70" x2="139.73" y2="266.07" stroke="#333" stroke-width="1"/>
<line x1="137.23" y1="256.70" x2="142.23" y2="256.70" stroke="#333" stroke-width="1"/>
<line x1="137.23" y1="266.07" x2="142.23" y2="266.07" stroke="#333" stroke-width="1"/>
<line x1="139.73" y1="271.25" x2="139.73" y2="283.01" stroke="#333" stroke-width="1"/>
<line x1="137.23" y1="271.25" x2="142.23" y2="271.25" stroke="#333" stroke-width="1"/>
<line x1="137.23" y1="283.01" x2="142.23" y2="283.01" stroke="#333" stroke-width="1"/>
<line x1="139.73" y1="298.95" x2="139.73" y2="306.92" stroke="#333" stroke-width="1"/>
<line x1="137.23" y1="298.95" x2="142.23" y2="298.95" stroke="#333" stroke-width="1"/>
<line x1="137.23" y1="306.92" x2="142.23" y2="306.92" stroke="#333" stroke-width="1"/>
<line x1="139.73" y1="312.30" x2="139.73" y2="319.88" stroke="#333" stroke-width="1"/>
<line x1="137.23" y1="312.30" x2="142.23" y2="312.30" stroke="#333" stroke-width="1"/>
<line x1="137.23" y1="319.88" x2="142.23" y2="319.88" stroke="#333" stroke-width="1"/>
<line x1="139.73" y1="316.89" x2="139.73" y2="326.85" stroke="#333" stroke-width="1"/>
<line x1="137.23" y1="316.89" x2="142.23" y2="316.89" stroke="#333" stroke-width="1"/>
<line x1="137.23" y1="326.85" x2="142.23" y2="326.85" stroke="#333" stroke-width="1"/>
<line x1="156.09" y1="281.61" x2="156.09" y2="293.17" stroke="#333" stroke-width="1"/>
<line x1="153.59" y1="281.61" x2="158.59" y2="281.61" stroke="#333" stroke-width="1"/>
<line x1="153.59" y1="293.17" x2="158.59" y2="293.17" stroke="#333" stroke-width="1"/>
<line x1="156.09" y1="295.56" x2="156.09" y2="303.93" stroke="#333" stroke-width="1"/>
<line x1="153.59" y1="295.56" x2="158.59" y2="295.56" stroke="#333" stroke-width="1"/>
<line x1="153.59" y1="303.93" x2="158.59" y2="303.93" stroke="#333" stroke-width="1"/>
<line x1="156.09" y1="300.94" x2="156.09" y2="308.92" stroke="#333" stroke-width="1"/>
<line x1="153.59" y1="300.94" x2="158.59" y2="300.94" stroke="#333" stroke-width="1"/>
<line x1="153.59" y1="308.92" x2="158.59" y2="308.92" stroke="#333" stroke-width="1"/>
<line x1="156.09" y1="316.89" x2="156.09" y2="328.85" stroke="#333" stroke-width="1"/>
<line x1="153.59" y1="316.89" x2="158.59" y2="316.89" stroke="#333" stroke-width="1"/>
<line x1="153.59" y1="328.85" x2="158.59" y2="328.85" stroke="#333" stroke-width="1"/>
<line x1="123.37" y1="313.90" x2="123.37" y2="321.87" stroke="#333" stroke-width="1"/>
<line x1="120.87" y1="313.90" x2="125.87" y2="313.90" stroke="#333" stroke-width="1"/>
<line x1="120.87" y1="321.87" x2="125.87" y2="321.87" stroke="#333" stroke-width="1"/>
<line x1="90.66" y1="241.15" x2="90.66" y2="249.13" stroke="#333" stroke-width="1"/>
<line x1="88.16" y1="241.15" x2="93.16" y2="241.15" stroke="#333" stroke-width="1"/>
<line x1="88.16" y1="249.13" x2="93.16" y2="249.13" stroke="#333" stroke-width="1"/>
<line x1="172.45" y1="309.91" x2="172.45" y2="319.88" stroke="#333" stroke-width="1"/>
<line x1="169.95" y1="309.91" x2="174.95" y2="309.91" stroke="#333" stroke-width="1"/>
<line x1="169.95" y1="319.88" x2="174.95" y2="319.88" stroke="#333" stroke-width="1"/>
<line x1="188.81" y1="315.89" x2="188.81" y2="325.86" stroke="#333" stroke-width="1"/>
<line x1="186.31" y1="315.89" x2="191.31" y2="315.89" stroke="#333" stroke-width="1"/>
<line x1="186.31" y1="325.86" x2="191.31" y2="325.86" stroke="#333" stroke-width="1"/>
<line x1="205.17" y1="316.89" x2="205.17" y2="325.86" stroke="#333" stroke-width="1"/>
<line x1="202.67" y1="316.89" x2="207.67" y2="316.89" stroke="#333" stroke-width="1"/>
<line x1="202.67" y1="325.86" x2="207.67" y2="325.86" stroke="#333" stroke-width="1"/>
<rect x="72.30" y="225.20" width="4.0" height="4.0" fill="#fff" stroke="#000" stroke-width="1"/>
<rect x="88.66" y="223.01" width="4.0" height="4.0" fill="#fff" stroke="#000" stroke-width="1"/>
<rect x="105.01" y="246.93" width="4.0" height="4.0" fill="#fff" stroke="#000" stroke-width="1"/>
<rect x="121.37" y="247.92" width="4.0" height="4.0" fill="#fff" stroke="#000" stroke-width="1"/>
<rect x="137.73" y="274.83" width="4.0" height="4.0" fill="#fff" stroke="#000" stroke-width="1"/>
<rect x="154.09" y="297.75" width="4.0" height="4.0" fill="#fff" stroke="#000" stroke-width="1"/>
<rect x="170.45" y="314.49" width="4.0" height="4.0" fill="#fff" stroke="#000" stroke-width="1"/>
<rect x="186.81" y="326.85" width="4.0" height="4.0" fill="#fff" stroke="#000" stroke-width="1"/>
<rect x="203.17" y="328.84" width="4.0" height="4.0" fill="#fff" stroke="#000" stroke-width="1"/>
<circle cx="74.30" cy="224.61" r="2.3" fill="#000" stroke="#000" stroke-width="1"/>
<circle cx="90.66" cy="229.00" r="2.3" fill="#000" stroke="#000" stroke-width="1"/>
<circle cx="107.01" cy="253.31" r="2.3" fill="#000" stroke="#000" stroke-width="1"/>
<circle cx="123.37" cy="245.34" r="2.3" fill="#000" stroke="#000" stroke-width="1"/>
<circle cx="139.73" cy="261.08" r="2.3" fill="#000" stroke="#000" stroke-width="1"/>
<circle cx="156.09" cy="286.99" r="2.3" fill="#000" stroke="#000" stroke-width="1"/>
<circle cx="172.45" cy="325.06" r="2.3" fill="#000" stroke="#000" stroke-width="1"/>
<circle cx="188.81" cy="335.42" r="2.3" fill="#000" stroke="#000" stroke-width="1"/>
<circle cx="205.17" cy="335.42" r="2.3" fill="#000" stroke="#000" stroke-width="1"/>
<path d="M71.40,238.30 L77.20,238.30 L74.30,233.25Z" fill="#fff" stroke="#000" stroke-width="1"/>
<path d="M87.75,240.69 L93.56,240.69 L90.66,235.64Z" fill="#fff" stroke="#000" stroke-width="1"/>
<path d="M104.11,279.75 L109.91,279.75 L107.01,274.70Z" fill="#fff" stroke="#000" stroke-width="1"/>
<path d="M120.47,300.08 L126.27,300.08 L123.37,295.03Z" fill="#fff" stroke="#000" stroke-width="1"/>
<path d="M136.83,318.42 L142.63,318.42 L139.73,313.37Z" fill="#fff" stroke="#000" stroke-width="1"/>
<path d="M153.19,322.80 L158.99,322.80 L156.09,317.75Z" fill="#fff" stroke="#000" stroke-width="1"/>
<path d="M169.55,327.38 L175.35,327.38 L172.45,322.34Z" fill="#fff" stroke="#000" stroke-width="1"/>
<path d="M185.91,331.37 L191.71,331.37 L188.81,326.32Z" fill="#fff" stroke="#000" stroke-width="1"/>
<path d="M202.27,326.39 L208.07,326.39 L205.17,321.34Z" fill="#fff" stroke="#000" stroke-width="1"/>
<circle cx="74.30" cy="229.40" r="2.3" fill="#fff" stroke="#000" stroke-width="1"/>
<circle cx="90.66" cy="237.97" r="2.3" fill="#fff" stroke="#000" stroke-width="1"/>
<circle cx="107.01" cy="248.93" r="2.3" fill="#fff" stroke="#000" stroke-width="1"/>
<circle cx="123.37" cy="269.85" r="2.3" fill="#fff" stroke="#000" stroke-width="1"/>
<circle cx="139.73" cy="302.74" r="2.3" fill="#fff" stroke="#000" stroke-width="1"/>
<circle cx="156.09" cy="303.93" r="2.3" fill="#fff" stroke="#000" stroke-width="1"/>
<circle cx="172.45" cy="315.89" r="2.3" fill="#fff" stroke="#000" stroke-width="1"/>
<circle cx="188.81" cy="330.44" r="2.3" fill="#fff" stroke="#000" stroke-width="1"/>
<circle cx="205.17" cy="326.85" r="2.3" fill="#fff" stroke="#000" stroke-width="1"/>
<rect x="72.30" y="222.61" width="4.0" height="4.0" fill="#000" stroke="#000" stroke-width="1"/>
<rect x="88.66" y="242.94" width="4.0" height="4.0" fill="#000" stroke="#000" stroke-width="1"/>
<rect x="105.01" y="306.12" width="4.0" height="4.0" fill="#000" stroke="#000" stroke-width="1"/>
<rect x="121.37" y="315.69" width="4.0" height="4.0" fill="#000" stroke="#000" stroke-width="1"/>
<rect x="137.73" y="319.47" width="4.0" height="4.0" fill="#000" stroke="#000" stroke-width="1"/>
<rect x="154.09" y="321.86" width="4.0" height="4.0" fill="#000" stroke="#000" stroke-width="1"/>
<rect x="170.45" y="323.26" width="4.0" height="4.0" fill="#000" stroke="#000" stroke-width="1"/>
<rect x="186.81" y="323.06" width="4.0" height="4.0" fill="#000" stroke="#000" stroke-width="1"/>
<rect x="203.17" y="319.47" width="4.0" height="4.0" fill="#000" stroke="#000" stroke-width="1"/>
<text x="191.50" y="216.70" font-size="9.2" font-weight="normal" text-anchor="middle">AM1241</text>
<line x1="169.00" y1="221.30" x2="213.70" y2="221.30" stroke="#222" stroke-width="1"/>
<rect x="170.50" y="227.30" width="4.0" height="4.0" fill="#000" stroke="#000" stroke-width="1"/>
<text x="179.10" y="232.60" font-size="9.2" font-weight="normal" text-anchor="start">0</text>
<path d="M170.10,246.95 L175.50,246.95 L172.80,242.25Z" fill="#fff" stroke="#000" stroke-width="0.9"/>
<text x="179.10" y="247.60" font-size="9.2" font-weight="normal" text-anchor="start">0.1</text>
<text x="193.60" y="247.60" font-size="9.2" font-weight="normal" text-anchor="start">µM</text>
<circle cx="172.50" cy="258.90" r="2.1" fill="#fff" stroke="#000" stroke-width="0.9"/>
<text x="179.10" y="262.20" font-size="9.2" font-weight="normal" text-anchor="start">0.3</text>
<text x="193.60" y="262.20" font-size="9.2" font-weight="normal" text-anchor="start">µM</text>
<rect x="170.55" y="271.35" width="3.9" height="3.9" fill="#fff" stroke="#000" stroke-width="0.9"/>
<text x="179.10" y="276.70" font-size="9.2" font-weight="normal" text-anchor="start">1</text>
<text x="186.60" y="276.70" font-size="9.2" font-weight="normal" text-anchor="start">µM</text>
<circle cx="172.50" cy="288.00" r="2.1" fill="#000" stroke="#000" stroke-width="1"/>
<text x="179.10" y="291.00" font-size="9.2" font-weight="normal" text-anchor="start">10</text>
<text x="190.60" y="291.00" font-size="9.2" font-weight="normal" text-anchor="start">µM</text>
<text x="256.50" y="215.00" font-size="13" font-weight="bold" text-anchor="start">d</text>
<line x1="295.40" y1="210.30" x2="295.40" y2="359.40" stroke="#444" stroke-width="1"/>
<line x1="291.90" y1="347.30" x2="453.70" y2="347.30" stroke="#444" stroke-width="1"/>
<line x1="291.90" y1="229.70" x2="295.40" y2="229.70" stroke="#444" stroke-width="1"/>
<text x="288.60" y="233.50" font-size="10.5" font-weight="normal" text-anchor="end">3</text>
<line x1="291.90" y1="268.90" x2="295.40" y2="268.90" stroke="#444" stroke-width="1"/>
<text x="288.60" y="272.70" font-size="10.5" font-weight="normal" text-anchor="end">2</text>
<line x1="291.90" y1="308.10" x2="295.40" y2="308.10" stroke="#444" stroke-width="1"/>
<text x="288.60" y="311.90" font-size="10.5" font-weight="normal" text-anchor="end">1</text>
<line x1="291.90" y1="347.30" x2="295.40" y2="347.30" stroke="#444" stroke-width="1"/>
<text x="288.60" y="351.10" font-size="10.5" font-weight="normal" text-anchor="end">0</text>
<line x1="315.40" y1="347.30" x2="315.40" y2="351.50" stroke="#444" stroke-width="1"/>
<text x="314.40" y="363.60" font-size="10.5" font-weight="normal" text-anchor="middle">-8</text>
<line x1="354.90" y1="347.30" x2="354.90" y2="351.50" stroke="#444" stroke-width="1"/>
<text x="353.90" y="363.60" font-size="10.5" font-weight="normal" text-anchor="middle">-7</text>
<line x1="394.40" y1="347.30" x2="394.40" y2="351.50" stroke="#444" stroke-width="1"/>
<text x="393.40" y="363.60" font-size="10.5" font-weight="normal" text-anchor="middle">-6</text>
<line x1="433.90" y1="347.30" x2="433.90" y2="351.50" stroke="#444" stroke-width="1"/>
<text x="432.90" y="363.60" font-size="10.5" font-weight="normal" text-anchor="middle">-5</text>
<text x="374.80" y="379.00" font-size="10.6" font-weight="bold" text-anchor="middle">Log AM1241 [M]</text>
<g transform="translate(261.20,286.70) rotate(-90)"><text x="0" y="0" font-size="10.6" font-weight="bold" text-anchor="middle">Log (DR-1)</text></g>
<line x1="319.75" y1="347.30" x2="445.36" y2="231.37" stroke="#222" stroke-width="1"/>
<line x1="354.90" y1="314.37" x2="354.90" y2="321.43" stroke="#333" stroke-width="1"/>
<line x1="351.90" y1="314.37" x2="357.90" y2="314.37" stroke="#333" stroke-width="1"/>
<line x1="351.90" y1="321.43" x2="357.90" y2="321.43" stroke="#333" stroke-width="1"/>
<circle cx="354.90" cy="317.90" r="2.6" fill="#000" stroke="#000" stroke-width="1"/>
<line x1="374.65" y1="296.73" x2="374.65" y2="311.63" stroke="#333" stroke-width="1"/>
<line x1="371.65" y1="296.73" x2="377.65" y2="296.73" stroke="#333" stroke-width="1"/>
<line x1="371.65" y1="311.63" x2="377.65" y2="311.63" stroke="#333" stroke-width="1"/>
<circle cx="374.65" cy="304.18" r="2.6" fill="#000" stroke="#000" stroke-width="1"/>
<line x1="394.40" y1="264.98" x2="394.40" y2="271.25" stroke="#333" stroke-width="1"/>
<line x1="391.40" y1="264.98" x2="397.40" y2="264.98" stroke="#333" stroke-width="1"/>
<line x1="391.40" y1="271.25" x2="397.40" y2="271.25" stroke="#333" stroke-width="1"/>
<circle cx="394.40" cy="268.12" r="2.6" fill="#000" stroke="#000" stroke-width="1"/>
<line x1="433.90" y1="244.01" x2="433.90" y2="249.10" stroke="#333" stroke-width="1"/>
<line x1="430.90" y1="244.01" x2="436.90" y2="244.01" stroke="#333" stroke-width="1"/>
<line x1="430.90" y1="249.10" x2="436.90" y2="249.10" stroke="#333" stroke-width="1"/>
<circle cx="433.90" cy="246.56" r="2.6" fill="#000" stroke="#000" stroke-width="1"/>
<rect x="309.2" y="213.3" width="59.1" height="41.7" fill="#fff" stroke="#444" stroke-width="1"/>
<text x="313.40" y="224.80" font-size="9.4" font-weight="bold" text-anchor="start">pA2</text>
<text x="334.00" y="224.80" font-size="9.4" font-weight="bold" text-anchor="start">=</text>
<text x="341.20" y="224.80" font-size="9.4" font-weight="bold" text-anchor="start">7.89</text>
<text x="313.40" y="237.20" font-size="9.4" font-weight="bold" text-anchor="start">Slope</text>
<text x="340.00" y="237.20" font-size="9.4" font-weight="bold" text-anchor="start">=</text>
<text x="347.10" y="237.20" font-size="9.4" font-weight="bold" text-anchor="start">0.93</text>
<text x="313.40" y="251.20" font-size="9.4" font-weight="bold" text-anchor="start">r</text>
<text x="317.70" y="247.00" font-size="6.8" font-weight="bold" text-anchor="start">2</text>
<text x="321.40" y="251.20" font-size="9.4" font-weight="bold" text-anchor="start">=</text>
<text x="329.00" y="251.20" font-size="9.4" font-weight="bold" text-anchor="start">0.86</text>
</svg></body></html>
